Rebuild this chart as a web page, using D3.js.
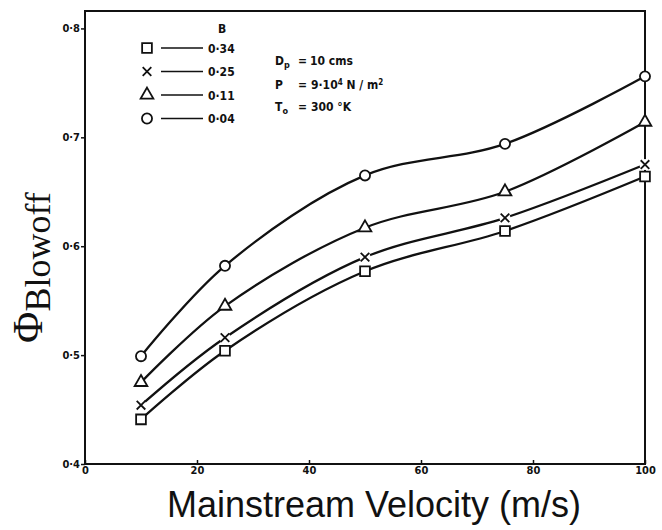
<!DOCTYPE html>
<html>
<head>
<meta charset="utf-8">
<script src="https://cdn.jsdelivr.net/npm/d3@7"></script>
<style>
  body { margin: 0; background: #fff; }
  svg { display: block; }
  .lettering { font-family: "Liberation Sans Narrow", "DejaVu Sans Condensed", "DejaVu Sans", sans-serif; font-weight: bold; fill: #111; }
</style>
</head>
<body>
<div id="chart"></div>
<script>
// data
var velocity = [10, 25, 50, 75, 100];
var phiB034 = [0.441, 0.504, 0.577, 0.614, 0.664];
var phiB025 = [0.454, 0.516, 0.590, 0.626, 0.675];
var phiB011 = [0.475, 0.545, 0.617, 0.650, 0.714];
var phiB004 = [0.499, 0.582, 0.665, 0.694, 0.756];
var bLabels = ["0·34", "0·25", "0·11", "0·04"];
var xTickValues = [0, 20, 40, 60, 80, 100];
var yTickValues = [0.4, 0.5, 0.6, 0.7, 0.8];
var yTickLabels = ["0·4", "0·5", "0·6", "0·7", "0·8"];

var seriesList = [
  { label: bLabels[0], values: phiB034, symbol: d3.symbolSquare, size: 95 },
  { label: bLabels[1], values: phiB025, symbol: d3.symbolTimes, size: 50 },
  { label: bLabels[2], values: phiB011, symbol: d3.symbolTriangle, size: 70 },
  { label: bLabels[3], values: phiB004, symbol: d3.symbolCircle, size: 80 }
];

var W = 662, H = 530;
var margin = { top: 11, right: 17, bottom: 66, left: 85 },
  width = W - margin.left - margin.right,
  height = H - margin.top - margin.bottom;

var root = d3.select("#chart")
  .append("svg")
  .attr("width", W)
  .attr("height", H);

var svg = root.append("g")
  .attr("transform", "translate(" + margin.left + "," + margin.top + ")");

// scales
var x = d3.scaleLinear().domain([0, 100]).range([0, width]);
var y = d3.scaleLinear().domain([0.4, 0.816]).range([height, 0]);

// frame
svg.append("rect")
  .attr("x", 0)
  .attr("y", 0)
  .attr("width", width)
  .attr("height", height)
  .attr("fill", "none")
  .attr("stroke", "#111")
  .attr("stroke-width", 2);

// Y axis
var yAxis = svg.append("g")
  .attr("class", "lettering")
  .call(d3.axisLeft(y)
    .tickValues(yTickValues)
    .tickSize(4)
    .tickPadding(1)
    .tickFormat(function(d, i) { return yTickLabels[i]; }));
yAxis.select(".domain").remove();
yAxis.selectAll("line").attr("stroke", "#111").attr("stroke-width", 1.5);
yAxis.selectAll("text")
  .attr("fill", "#111")
  .style("font-size", "11px")
  .style("font-weight", "bold")
  .style("font-family", "inherit");

// X axis, ticks point up into the plot
var xAxis = svg.append("g")
  .attr("class", "lettering")
  .attr("transform", "translate(0," + height + ")")
  .call(d3.axisBottom(x)
    .tickValues(xTickValues)
    .tickSizeInner(-4)
    .tickSizeOuter(0)
    .tickPadding(2));
xAxis.select(".domain").remove();
xAxis.selectAll("line").attr("stroke", "#111").attr("stroke-width", 1.5);
xAxis.selectAll("text")
  .attr("fill", "#111")
  .style("font-size", "11px")
  .style("font-weight", "bold")
  .style("font-family", "inherit");

// curves
var line = d3.line()
  .x(function(d) { return x(d[0]); })
  .y(function(d) { return y(d[1]); })
  .curve(d3.curveCatmullRom.alpha(0.5));

seriesList.forEach(function(s) {
  var pts = velocity.map(function(v, i) { return [v, s.values[i]]; });
  svg.append("path")
    .datum(pts)
    .attr("d", line)
    .attr("fill", "none")
    .attr("stroke", "#111")
    .attr("stroke-width", 2.3);
});

// markers on top (white fill hides the line under them)
seriesList.forEach(function(s) {
  var g = svg.append("g");
  var pts = velocity.map(function(v, i) { return [v, s.values[i]]; });
  if (s.symbol === d3.symbolTimes) {
    g.selectAll("circle")
      .data(pts)
      .enter()
      .append("circle")
      .attr("cx", function(d) { return x(d[0]); })
      .attr("cy", function(d) { return y(d[1]); })
      .attr("r", 5.5)
      .attr("fill", "#fff");
  }
  g.selectAll("path")
    .data(pts)
    .enter()
    .append("path")
    .attr("transform", function(d) { return "translate(" + x(d[0]) + "," + y(d[1]) + ")"; })
    .attr("d", d3.symbol().type(s.symbol).size(s.size))
    .attr("fill", "#fff")
    .attr("stroke", "#111")
    .attr("stroke-width", 1.8);
});

// legend
var legend = root.append("g").attr("class", "lettering").style("font-size", "12px");
legend.append("text")
  .attr("x", 222)
  .attr("y", 33)
  .attr("text-anchor", "middle")
  .text("B");
seriesList.forEach(function(s, i) {
  var ly = 48 + i * 23.5;
  legend.append("path")
    .attr("transform", "translate(147," + ly + ")")
    .attr("d", d3.symbol().type(s.symbol).size(s.size))
    .attr("fill", "#fff")
    .attr("stroke", "#111")
    .attr("stroke-width", 1.8);
  legend.append("line")
    .attr("x1", 161)
    .attr("x2", 203)
    .attr("y1", ly)
    .attr("y2", ly)
    .attr("stroke", "#111")
    .attr("stroke-width", 1.6);
  legend.append("text")
    .attr("x", 208)
    .attr("y", ly + 4.5)
    .text(s.label);
});

// conditions
var notes = root.append("g").attr("class", "lettering").style("font-size", "12px");
var n1 = notes.append("text").attr("x", 275).attr("y", 65);
n1.append("tspan").text("D");
n1.append("tspan").attr("dy", 3).style("font-size", "9px").text("p");
notes.append("text").attr("x", 298).attr("y", 65).text("=");
notes.append("text").attr("x", 310).attr("y", 65).text("10 cms");

notes.append("text").attr("x", 275).attr("y", 89).text("P");
notes.append("text").attr("x", 298).attr("y", 89).text("=");
var n2 = notes.append("text").attr("x", 311).attr("y", 89);
n2.append("tspan").text("9·10");
n2.append("tspan").attr("dy", -4).style("font-size", "8px").text("4");
n2.append("tspan").attr("dy", 4).text(" N / m");
n2.append("tspan").attr("dy", -4).style("font-size", "8px").text("2");

var n3 = notes.append("text").attr("x", 275).attr("y", 111);
n3.append("tspan").text("T");
n3.append("tspan").attr("dy", 3).style("font-size", "9px").text("o");
notes.append("text").attr("x", 298).attr("y", 111).text("=");
notes.append("text").attr("x", 311).attr("y", 111).text("300 °K");

// X axis title
root.append("text")
  .attr("x", 374)
  .attr("y", 517)
  .attr("text-anchor", "middle")
  .style("font-family", "'Liberation Sans', Arial, sans-serif")
  .style("font-size", "36px")
  .attr("fill", "#111")
  .text("Mainstream Velocity (m/s)");

// Y axis title
var yTitle = root.append("text")
  .attr("transform", "translate(42,343) rotate(-90)")
  .style("font-family", "'Liberation Serif', 'Times New Roman', serif")
  .attr("fill", "#111");
yTitle.append("tspan").style("font-size", "43px").text("Φ");
yTitle.append("tspan").attr("dy", 8).style("font-size", "36px").text("Blowoff");
</script>
</body>
</html>
